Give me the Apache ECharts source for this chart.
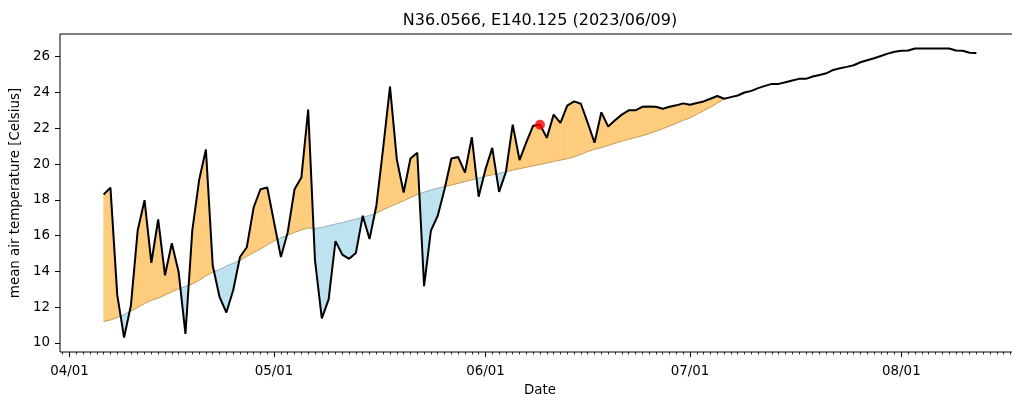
<!DOCTYPE html>
<html><head><meta charset="utf-8">
<script src="https://cdn.jsdelivr.net/npm/echarts@6/dist/echarts.min.js"></script>
<style>html,body{margin:0;padding:0;background:#fff}#c{width:1012px;height:394px}</style>
</head><body><div id="c"></div>
<script>
// ---- data ----
const title = 'N36.0566, E140.125 (2023/06/09)';
const yName = 'mean air temperature [Celsius]';
const xName = 'Date';
const startDate = '2023-04-06';
const todayDate = '2023-06-09';
// daily mean air temperature, 2023-04-06 .. 2023-08-12
const observed = [
  18.3, 18.68, 12.67, 10.3, 12.1, 16.3, 17.98, 14.48, 16.9, 13.78, 15.57, 13.96, 10.5, 16.28, 19.09,
  20.81, 14.33, 12.57, 11.7, 12.94, 14.8, 15.35, 17.57, 18.59, 18.69,
  16.74, 14.8, 16.19, 18.59, 19.24, 23.04, 14.61, 11.37, 12.43, 15.69, 14.94, 14.7, 15.03, 17.11, 15.81,
  17.67, 20.9, 24.33, 20.26, 18.41, 20.31, 20.63, 13.17, 16.28, 17.11, 18.59, 20.31, 20.39, 19.52, 21.5, 18.17,
  19.7, 20.9, 18.44, 19.56, 22.2, 20.22, 21.22, 22.14, 22.2, 21.46, 22.76, 22.3, 23.26, 23.5, 23.37,
  22.3, 21.19, 22.89, 22.1, 22.45, 22.76, 23.0, 23.0, 23.2, 23.22, 23.2, 23.09, 23.2, 23.28, 23.39,
  23.31, 23.41, 23.5, 23.65, 23.8, 23.65, 23.74, 23.83, 24.0, 24.09, 24.24, 24.37, 24.48, 24.48, 24.57,
  24.67, 24.76, 24.76, 24.89, 24.98, 25.07, 25.26, 25.35, 25.43, 25.52, 25.69, 25.8, 25.91, 26.04, 26.17, 26.28,
  26.33, 26.35, 26.46, 26.46, 26.46, 26.46, 26.46, 26.46, 26.35, 26.33, 26.22, 26.2
];
// climatological normal, 2023-04-06 .. 2023-07-06
const normal = [
  11.2, 11.28, 11.42, 11.58, 11.78, 11.98, 12.2, 12.38, 12.5, 12.68, 12.86, 13.02, 13.16, 13.3, 13.5,
  13.75, 13.96, 14.1, 14.3, 14.45, 14.62, 14.85, 15.05, 15.25, 15.48,
  15.7, 15.88, 16.02, 16.18, 16.32, 16.42, 16.4, 16.45, 16.55, 16.64, 16.72, 16.82, 16.92, 17.02, 17.12,
  17.25, 17.45, 17.62, 17.78, 17.95, 18.12, 18.3, 18.42, 18.55, 18.65, 18.74, 18.82, 18.92, 19.02, 19.12, 19.22,
  19.32, 19.4, 19.48, 19.56, 19.66, 19.74, 19.82, 19.9, 19.98, 20.06, 20.14, 20.22, 20.3, 20.4, 20.54,
  20.7, 20.82, 20.92, 21.04, 21.16, 21.28, 21.38, 21.48, 21.58, 21.7, 21.83, 21.98, 22.12, 22.28, 22.44,
  22.58, 22.78, 22.98, 23.18, 23.4, 23.65
];
const tickDates = ['2023-04-01', '2023-05-01', '2023-06-01', '2023-07-01', '2023-08-01'];
const tickLabels = ['04/01', '05/01', '06/01', '07/01', '08/01'];
const yTicks = [10, 12, 14, 16, 18, 20, 22, 24, 26];

// ---- helpers ----
function toTs(s) { const p = s.split('-').map(Number); return new Date(p[0], p[1] - 1, p[2]).getTime(); }
const t0 = toTs(startDate);
const dates = observed.map((_, i) => { const d = new Date(t0); d.setDate(d.getDate() + i); return d.getTime(); });
const tickTs = tickDates.map(toTs);
const span = dates[dates.length - 1] - dates[0];
const xMin = dates[0] - 0.05 * span, xMax = dates[dates.length - 1] + 0.05 * span;
const ySpan = Math.max(...observed) - Math.min(...observed);
const yMin = Math.min(...observed) - 0.05 * ySpan, yMax = Math.max(...observed) + 0.05 * ySpan;
const minorTs = [];
for (let d = new Date(toTs('2023-03-31')); d.getTime() <= xMax; d.setDate(d.getDate() + 1)) minorTs.push(d.getTime());
const todayIdx = dates.indexOf(toTs(todayDate));

const fillAbove = '#FECC7D', fillBelow = '#BEE3F0';
const edgeAbove = '#C49E62', edgeBelow = '#9AB0BA';
const FONT = 'DejaVu Sans';

const fillData = [];
for (let i = 0; i < normal.length - 1; i++) {
  fillData.push([dates[i], observed[i], normal[i], dates[i + 1], observed[i + 1], normal[i + 1]]);
}

function renderFill(params, api) {
  const ta = api.value(0), oa = api.value(1), na = api.value(2);
  const tb = api.value(3), ob = api.value(4), nb = api.value(5);
  const A = api.coord([ta, oa]), B = api.coord([tb, ob]), C = api.coord([tb, nb]), D = api.coord([ta, na]);
  const da = oa - na, db = ob - nb;
  const fc = d => d >= 0 ? fillAbove : fillBelow;
  const ec = d => d >= 0 ? edgeAbove : edgeBelow;
  const ch = [];
  if (da * db >= 0) {
    const d = da !== 0 ? da : db;
    ch.push({ type: 'polygon', shape: { points: [A, B, C, D] }, style: { fill: fc(d), stroke: fc(d), lineWidth: 0.6 } });
    ch.push({ type: 'line', shape: { x1: D[0], y1: D[1], x2: C[0], y2: C[1] }, style: { stroke: ec(d), lineWidth: 1 } });
  } else {
    const f = da / (da - db);
    const P = [A[0] + f * (B[0] - A[0]), A[1] + f * (B[1] - A[1])];
    ch.push({ type: 'polygon', shape: { points: [A, P, D] }, style: { fill: fc(da), stroke: fc(da), lineWidth: 0.6 } });
    ch.push({ type: 'polygon', shape: { points: [P, B, C] }, style: { fill: fc(db), stroke: fc(db), lineWidth: 0.6 } });
    ch.push({ type: 'line', shape: { x1: D[0], y1: D[1], x2: P[0], y2: P[1] }, style: { stroke: ec(da), lineWidth: 1 } });
    ch.push({ type: 'line', shape: { x1: P[0], y1: P[1], x2: C[0], y2: C[1] }, style: { stroke: ec(db), lineWidth: 1 } });
  }
  return { type: 'group', children: ch };
}

const chart = echarts.init(document.getElementById('c'), null, { renderer: 'canvas' });
const txt = { color: '#000', fontFamily: FONT, fontSize: 13.4 };
chart.setOption({
  animation: false,
  backgroundColor: '#fff',
  title: { text: title, left: 535, top: 8, textAlign: 'center',
    textStyle: { color: '#000', fontFamily: FONT, fontSize: 16, fontWeight: 'normal' } },
  grid: [
    { left: 60, right: -8, top: 34, bottom: 42, outerBoundsMode: 'none', containLabel: false,
      show: true, borderColor: '#000', borderWidth: 1, backgroundColor: 'transparent' },
    { left: 60, right: -8, top: 34, bottom: 42, outerBoundsMode: 'none', containLabel: false }
  ],
  xAxis: [
    { type: 'value', gridIndex: 0, min: xMin, max: xMax, scale: true,
      axisLine: { show: false }, splitLine: { show: false },
      axisTick: { show: true, length: 5, customValues: tickTs, lineStyle: { color: '#000', width: 1 } },
      axisLabel: Object.assign({ customValues: tickTs, margin: 13, hideOverlap: false,
        formatter: v => { const k = tickTs.indexOf(v); return k >= 0 ? tickLabels[k] : ''; } }, txt),
      name: xName, nameLocation: 'middle', nameGap: 32, nameTextStyle: txt },
    { type: 'value', gridIndex: 1, min: xMin, max: xMax, scale: true,
      axisLine: { show: false }, splitLine: { show: false }, axisLabel: { show: false },
      axisTick: { show: true, length: 2.5, customValues: minorTs, lineStyle: { color: '#000', width: 0.8 } } }
  ],
  yAxis: [
    { type: 'value', gridIndex: 0, min: yMin, max: yMax, scale: true,
      axisLine: { show: false }, splitLine: { show: false },
      axisTick: { show: true, length: 5, customValues: yTicks, lineStyle: { color: '#000', width: 1 } },
      axisLabel: Object.assign({ customValues: yTicks, margin: 10 }, txt),
      name: yName, nameLocation: 'middle', nameGap: 29, nameRotate: 90, nameTextStyle: txt },
    { type: 'value', gridIndex: 1, min: 0, max: 1, show: false }
  ],
  series: [
    { type: 'custom', xAxisIndex: 0, yAxisIndex: 0, renderItem: renderFill, data: fillData,
      encode: { x: [0, 3], y: [1, 2, 4, 5] }, silent: true, z: 1, clip: true },
    { type: 'line', xAxisIndex: 0, yAxisIndex: 0, data: dates.map((d, i) => [d, observed[i]]),
      showSymbol: false, symbol: 'none', lineStyle: { color: '#000', width: 2 }, z: 3, silent: true },
    { type: 'scatter', xAxisIndex: 0, yAxisIndex: 0, data: [[dates[todayIdx], observed[todayIdx]]],
      symbolSize: 10, itemStyle: { color: '#FF0000' }, z: 4, silent: true }
  ]
});
</script></body></html>
